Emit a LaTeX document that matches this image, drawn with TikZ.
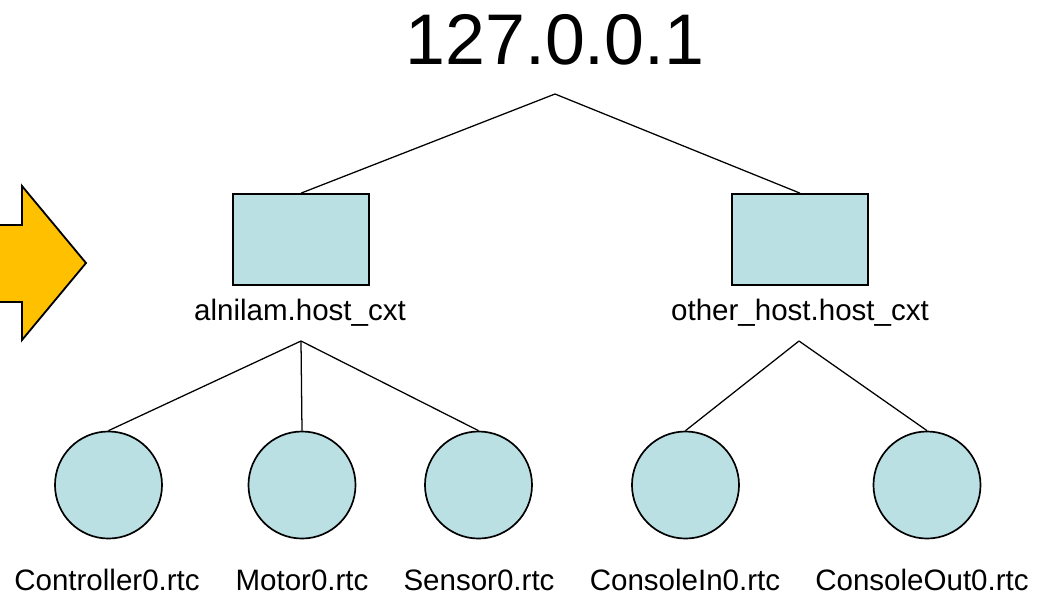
\documentclass[tikz,border=0pt]{standalone}
\usepackage{fontspec}
\setmainfont{Liberation Sans}
\usetikzlibrary{shapes,arrows,positioning}

\definecolor{ctxfill}{HTML}{BBE0E3}
\definecolor{arrowfill}{HTML}{FFC000}

\begin{document}
\begin{tikzpicture}[x=0.025cm, y=-0.025cm]
		\tikzstyle{Host}	= [rectangle, draw, line width=1.2pt, fill=ctxfill, minimum width=3.4cm, minimum height=2.275cm, inner sep=0pt]
		\tikzstyle{Comp}	= [circle, draw, line width=1.2pt, fill=ctxfill, minimum size=2.675cm, inner sep=0pt]
		\tikzstyle{Name}	= [inner sep=0pt, font=\fontsize{21}{25}\selectfont]
		\tikzstyle{Link}	= [line width=0.9pt]

		\useasboundingbox (0,0) rectangle (1042,595);

		% shaded arrow on the left edge
		\draw [line width=1.3pt, fill=arrowfill, line join=miter]
			(-10,225) -- (22,225) -- (22,186) -- (86,263) -- (22,340) -- (22,302) -- (-10,302) -- cycle;

		\node (ns) at (555, 40) [inner sep=0pt, font=\fontsize{51}{60}\selectfont] {127.0.0.1};
		\coordinate (nsfoot) at (555, 94);

		\node (alnilam) at (301, 239.5) [Host] {};
		\node (other) at (800, 239.5) [Host] {};
		\node (alnilamname) at (300, 313) [Name] {alnilam.host\_cxt};
		\node (othername) at (800, 313) [Name] {other\_host.host\_cxt};
		\coordinate (alnilamfoot) at (301, 341);
		\coordinate (otherfoot) at (799, 341);

		\node (ctrl) at (108.5, 485) [Comp] {};
		\node (motor) at (302, 485) [Comp] {};
		\node (sensor) at (478.5, 485) [Comp] {};
		\node (cin) at (685.5, 485) [Comp] {};
		\node (cout) at (927, 485) [Comp] {};

		\node (ctrlname) at (107, 580) [Name] {Controller0.rtc};
		\node (motorname) at (302, 580) [Name] {Motor0.rtc};
		\node (sensorname) at (479, 580) [Name] {Sensor0.rtc};
		\node (cinname) at (685, 580) [Name] {ConsoleIn0.rtc};
		\node (coutname) at (922, 580) [Name] {ConsoleOut0.rtc};

		\draw [-] (nsfoot) to (alnilam.north) [Link];
		\draw [-] (nsfoot) to (other.north) [Link];
		\draw [-] (alnilamfoot) to (ctrl.north) [Link];
		\draw [-] (alnilamfoot) to (motor.north) [Link];
		\draw [-] (alnilamfoot) to (sensor.north) [Link];
		\draw [-] (otherfoot) to (cin.north) [Link];
		\draw [-] (otherfoot) to (cout.north) [Link];
	\end{tikzpicture}
\end{document}
